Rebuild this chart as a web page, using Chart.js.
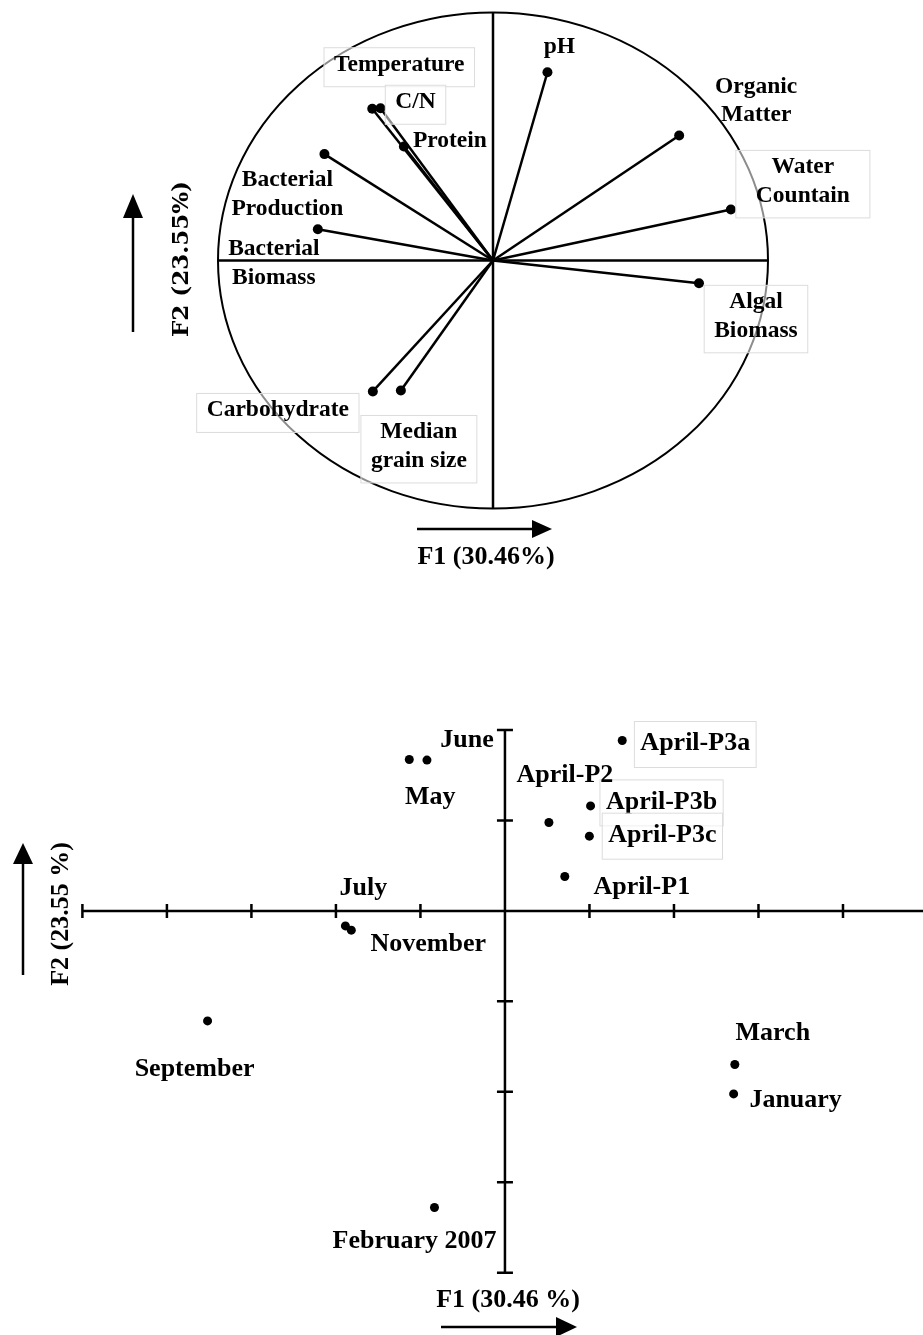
<!DOCTYPE html>
<html>
<head>
<meta charset="utf-8">
<script src="https://cdn.jsdelivr.net/npm/chart.js@4.4.1/dist/chart.umd.min.js"></script>
<style>
  html, body { margin: 0; padding: 0; background: #fff; overflow: hidden; }
  #page { position: relative; width: 923px; height: 1335px; overflow: hidden; }
  #loadings { position: absolute; left: 0; top: 0; }
  #scores { position: absolute; left: 0; top: 600px; }
</style>
</head>
<body>
<div id="page">
  <canvas id="loadings" width="923" height="600"></canvas>
  <canvas id="scores" width="932" height="735"></canvas>
</div>
<script>
// variables on the correlation circle (F1, F2)
const variableLabels = [['pH'], ['Organic', 'Matter'], ['Water', 'Countain'], ['Algal', 'Biomass'],
  ['Temperature'], ['C/N'], ['Protein'], ['Bacterial', 'Production'], ['Bacterial', 'Biomass'],
  ['Carbohydrate'], ['Median', 'grain size']];
const variableF1 = [0.198, 0.677, 0.865, 0.749, -0.439, -0.409, -0.324, -0.613, -0.637, -0.437, -0.335];
const variableF2 = [0.759, 0.504, 0.206, -0.092, 0.612, 0.614, 0.460, 0.429, 0.126, -0.528, -0.524];

// sampling dates on the factorial plane (F1, F2)
const sampleLabels = ['May', 'June', 'April-P3a', 'April-P3b', 'April-P2', 'April-P3c', 'April-P1',
  'July', 'November', 'September', 'March', 'January', 'February 2007'];
const sampleF1 = [-1.132, -0.923, 1.388, 1.013, 0.520, 0.999, 0.708, -1.888, -1.818, -3.519, 2.720, 2.706, -0.834];
const sampleF2 = [1.674, 1.667, 1.884, 1.161, 0.977, 0.826, 0.380, -0.166, -0.213, -1.216, -1.698, -2.023, -3.279];

// label placement (pixels from the point) and boxes
const variableLabelOffsets = [[12, -19], [77, -43], [72, -36], [57, 25], [27, -38], [35, 0], [46, 1],
  [-37, 32], [-44, 26], [-95, 25], [18, 48]];
const variableBoxPad = [0, 0, 20, 10, 10, 10, 0, 0, 0, 10, 10];
const sampleLabelOffsets = [[21, 45], [40, -13], [73, 10], [71, 3], [16, -41], [73, 6], [77, 17],
  [18, -31], [77, 21], [-13, 55], [38, -24], [62, 13], [-20, 41]];
const sampleBoxPad = [0, 0, 6, 6, 0, 6, 0, 0, 0, 0, 0, 0, 0];

const SERIF = '"Liberation Serif", "Times New Roman", serif';

function drawArrow(ctx, x1, y1, x2, y2, head, half) {
  const ang = Math.atan2(y2 - y1, x2 - x1);
  const bx = x2 - head * Math.cos(ang), by = y2 - head * Math.sin(ang);
  ctx.beginPath();
  ctx.moveTo(x1, y1);
  ctx.lineTo(bx, by);
  ctx.lineWidth = 2.5;
  ctx.stroke();
  ctx.beginPath();
  ctx.moveTo(x2, y2);
  ctx.lineTo(bx + half * Math.sin(ang), by - half * Math.cos(ang));
  ctx.lineTo(bx - half * Math.sin(ang), by + half * Math.cos(ang));
  ctx.closePath();
  ctx.fill();
}

function drawLabels(ctx, points, labels, offsets, pads, font, lineHeight, boxTop, boxBottom) {
  ctx.save();
  ctx.font = font;
  ctx.textAlign = 'center';
  ctx.textBaseline = 'alphabetic';
  labels.forEach((lines, i) => {
    const cx = points[i].x + offsets[i][0];
    const by = points[i].y + offsets[i][1];
    if (pads[i] > 0) {
      const w = Math.max(...lines.map(l => ctx.measureText(l).width));
      const top = by - boxTop;
      const bottom = by + (lines.length - 1) * lineHeight + boxBottom;
      ctx.fillStyle = 'rgba(255,255,255,0.55)';
      ctx.fillRect(cx - w / 2 - pads[i], top, w + 2 * pads[i], bottom - top);
      ctx.strokeStyle = '#dcdcdc';
      ctx.lineWidth = 1;
      ctx.strokeRect(cx - w / 2 - pads[i], top, w + 2 * pads[i], bottom - top);
    }
    ctx.fillStyle = '#000';
    lines.forEach((l, k) => ctx.fillText(l, cx, by + k * lineHeight));
  });
  ctx.restore();
}

// ---------- top: correlation circle ----------
const circlePlugin = {
  id: 'circle',
  beforeDatasetsDraw(chart) {
    const { ctx, scales: { x, y } } = chart;
    const cx = x.getPixelForValue(0), cy = y.getPixelForValue(0);
    const rx = x.getPixelForValue(1) - cx, ry = cy - y.getPixelForValue(1);
    ctx.save();
    ctx.strokeStyle = '#000';
    ctx.lineWidth = 2;
    ctx.beginPath();
    ctx.ellipse(cx, cy, rx, ry, 0, 0, Math.PI * 2);
    ctx.stroke();
    ctx.lineWidth = 2.5;
    ctx.beginPath();
    ctx.moveTo(x.getPixelForValue(-1), cy);
    ctx.lineTo(x.getPixelForValue(1), cy);
    ctx.moveTo(cx, y.getPixelForValue(1));
    ctx.lineTo(cx, y.getPixelForValue(-1));
    ctx.stroke();
    ctx.restore();
  },
  afterDatasetsDraw(chart) {
    const ctx = chart.ctx;
    const ends = variableLabels.map((_, i) => chart.getDatasetMeta(i).data[1]);
    drawLabels(ctx, ends, variableLabels, variableLabelOffsets, variableBoxPad,
      'bold 23.5px ' + SERIF, 28.5, 23, 16);

    ctx.save();
    ctx.fillStyle = '#000';
    ctx.strokeStyle = '#000';
    ctx.font = 'bold 26px ' + SERIF;
    ctx.textAlign = 'center';
    ctx.fillText('F1 (30.46%)', 486, 564);
    drawArrow(ctx, 417, 529, 552, 529, 20, 9);
    drawArrow(ctx, 133, 332, 133, 194, 24, 10);
    ctx.translate(188, 259);
    ctx.rotate(-Math.PI / 2);
    ctx.font = 'bold 23px "DejaVu Serif", serif';
    ctx.fillText('F2 (23.55%)', 0, 0);
    ctx.restore();
  }
};

const vectorDatasets = variableLabels.map((lab, i) => ({
  label: lab.join(' '),
  data: [{ x: 0, y: 0 }, { x: variableF1[i], y: variableF2[i] }],
  showLine: true,
  borderColor: '#000',
  borderWidth: 2.5,
  pointRadius: [0, 5],
  pointBackgroundColor: '#000',
  pointBorderWidth: 0
}));

new Chart(document.getElementById('loadings'), {
  type: 'scatter',
  data: { datasets: vectorDatasets },
  options: {
    responsive: false,
    animation: false,
    devicePixelRatio: 1,
    layout: { padding: { left: 218, right: 155, top: 12.5, bottom: 91.5 } },
    scales: {
      x: { display: false, min: -1, max: 1 },
      y: { display: false, min: -1, max: 1 }
    },
    plugins: { legend: { display: false }, tooltip: { enabled: false } }
  },
  plugins: [circlePlugin]
});

// ---------- bottom: sample scores ----------
const scoresPlugin = {
  id: 'scoreAxes',
  beforeDatasetsDraw(chart) {
    const { ctx, chartArea, scales: { x, y } } = chart;
    const x0 = x.getPixelForValue(0), y0 = y.getPixelForValue(0);
    ctx.save();
    ctx.strokeStyle = '#000';
    ctx.lineWidth = 2.5;
    ctx.beginPath();
    ctx.moveTo(chartArea.left, y0);
    ctx.lineTo(chartArea.right, y0);
    ctx.moveTo(x0, chartArea.top);
    ctx.lineTo(x0, chartArea.bottom);
    x.ticks.forEach(t => {
      const px = x.getPixelForValue(t.value);
      ctx.moveTo(px, y0 - 7);
      ctx.lineTo(px, y0 + 7);
    });
    y.ticks.forEach(t => {
      const py = y.getPixelForValue(t.value);
      ctx.moveTo(x0 - 8, py);
      ctx.lineTo(x0 + 8, py);
    });
    ctx.stroke();
    ctx.restore();
  },
  afterDatasetsDraw(chart) {
    const ctx = chart.ctx;
    const pts = chart.getDatasetMeta(0).data;
    drawLabels(ctx, pts, sampleLabels.map(l => [l]), sampleLabelOffsets, sampleBoxPad,
      'bold 26px ' + SERIF, 30, 29, 17);

    ctx.save();
    ctx.fillStyle = '#000';
    ctx.strokeStyle = '#000';
    ctx.font = 'bold 26px ' + SERIF;
    ctx.textAlign = 'center';
    ctx.fillText('F1 (30.46 %)', 508, 707);
    drawArrow(ctx, 441, 727, 577, 727, 21, 10);
    drawArrow(ctx, 23, 375, 23, 243, 21, 10);
    ctx.translate(68, 314);
    ctx.rotate(-Math.PI / 2);
    ctx.fillText('F2 (23.55 %)', 0, 0);
    ctx.restore();
  }
};

new Chart(document.getElementById('scores'), {
  type: 'scatter',
  data: {
    datasets: [{
      label: 'Samples',
      data: sampleF1.map((v, i) => ({ x: v, y: sampleF2[i] })),
      pointRadius: 4.5,
      pointBackgroundColor: '#000',
      pointBorderWidth: 0
    }]
  },
  options: {
    responsive: false,
    animation: false,
    devicePixelRatio: 1,
    layout: { padding: { left: 82.4, right: 1.8, top: 130, bottom: 62.3 } },
    scales: {
      x: { display: false, min: -5, max: 5, ticks: { stepSize: 1 } },
      y: { display: false, min: -4, max: 2, ticks: { stepSize: 1 } }
    },
    plugins: { legend: { display: false }, tooltip: { enabled: false } }
  },
  plugins: [scoresPlugin]
});
</script>
</body>
</html>
